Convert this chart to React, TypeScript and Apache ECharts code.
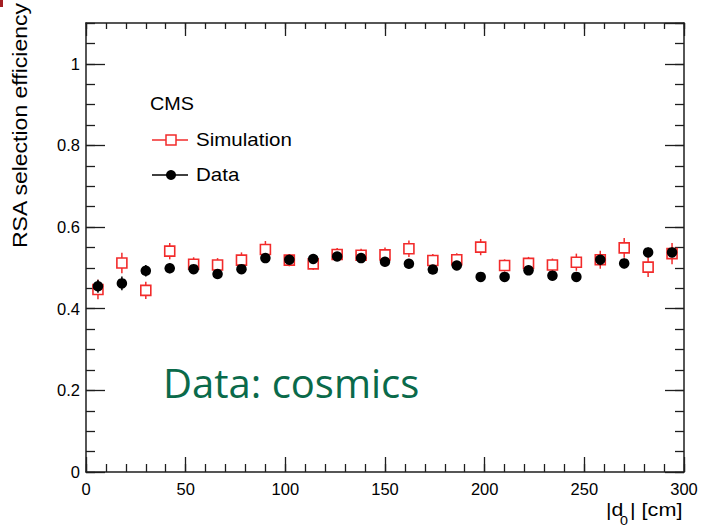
import React, { useEffect, useRef } from 'react';
import * as echarts from 'echarts';

// |d0| bin centers [cm]
const binCenters = [6, 18, 30, 42, 54, 66, 78, 90, 102, 114, 126, 138, 150, 162, 174, 186, 198, 210, 222, 234, 246, 258, 270, 282, 294];
// Simulation efficiency and uncertainty
const simEff = [0.447, 0.512, 0.445, 0.541, 0.509, 0.507, 0.519, 0.545, 0.519, 0.510, 0.533, 0.531, 0.532, 0.547, 0.518, 0.520, 0.551, 0.506, 0.511, 0.507, 0.514, 0.520, 0.549, 0.502, 0.535];
const simErr = [0.024, 0.025, 0.021, 0.020, 0.017, 0.017, 0.019, 0.021, 0.015, 0.015, 0.016, 0.016, 0.018, 0.020, 0.016, 0.016, 0.020, 0.015, 0.016, 0.016, 0.021, 0.022, 0.024, 0.024, 0.026];
// Data (cosmics) efficiency and uncertainty
const dataEff = [0.455, 0.462, 0.493, 0.499, 0.497, 0.485, 0.497, 0.524, 0.520, 0.522, 0.528, 0.524, 0.515, 0.510, 0.496, 0.506, 0.478, 0.478, 0.494, 0.481, 0.478, 0.520, 0.511, 0.538, 0.538];
const dataErr = [0.016, 0.017, 0.014, 0.012, 0.011, 0.011, 0.011, 0.011, 0.011, 0.011, 0.011, 0.011, 0.011, 0.011, 0.011, 0.011, 0.011, 0.011, 0.011, 0.011, 0.011, 0.014, 0.012, 0.012, 0.012];

const xMin = 0;
const xMax = 300;
const yMin = 0;
const yMax = 1.1;

const FONT = '"Liberation Sans", Arial, Helvetica, sans-serif';
const AX = '#1e1e1e';
const RED = '#f22b2b';

function errorBarSeries(values: number[], errs: number[], color: string, gap: number) {
  return {
    type: 'custom',
    xAxisIndex: 0,
    yAxisIndex: 0,
    silent: true,
    encode: { x: 0, y: 1 },
    data: binCenters.map((x, i) => [x, values[i], errs[i]]),
    renderItem: (_params: any, api: any) => {
      const x = api.value(0);
      const y = api.value(1);
      const e = api.value(2);
      const top = api.coord([x, y + e]);
      const bot = api.coord([x, y - e]);
      const c = api.coord([x, y]);
      const children: any[] = [];
      if (c[1] - gap > top[1]) {
        children.push({ type: 'line', shape: { x1: c[0], y1: top[1], x2: c[0], y2: c[1] - gap }, style: { stroke: color, lineWidth: 1.5 } });
      }
      if (bot[1] > c[1] + gap) {
        children.push({ type: 'line', shape: { x1: c[0], y1: c[1] + gap, x2: c[0], y2: bot[1] }, style: { stroke: color, lineWidth: 1.5 } });
      }
      return { type: 'group', children };
    },
  };
}

function xAxisDef(position: 'top' | 'bottom', interval: number, len: number, line: boolean, labels: boolean) {
  return {
    type: 'value',
    position,
    min: xMin,
    max: xMax,
    interval,
    axisLine: { show: line, onZero: false, lineStyle: { color: AX, width: 1.5 } },
    axisTick: { show: true, inside: true, length: len, lineStyle: { color: AX, width: 1.3 } },
    axisLabel: { show: labels, margin: 8, fontSize: 16.5, color: '#000', fontFamily: FONT },
    splitLine: { show: false },
  };
}

function yAxisDef(position: 'left' | 'right', interval: number, len: number, line: boolean, labels: boolean) {
  return {
    type: 'value',
    position,
    min: yMin,
    max: yMax,
    interval,
    axisLine: { show: line, onZero: false, lineStyle: { color: AX, width: 1.5 } },
    axisTick: { show: true, inside: true, length: len, lineStyle: { color: AX, width: 1.3 } },
    axisLabel: { show: labels, margin: 6, fontSize: 16.5, color: '#000', fontFamily: FONT, showMaxLabel: false },
    splitLine: { show: false },
  };
}

export default function App() {
  const ref = useRef<HTMLDivElement>(null);

  useEffect(() => {
    if (!ref.current) return;
    const chart = echarts.init(ref.current, null, { renderer: 'svg' });
    const option: any = {
      animation: false,
      backgroundColor: '#ffffff',
      grid: { left: 86, top: 23, right: 18, bottom: 56, containLabel: false },
      xAxis: [
        xAxisDef('bottom', 50, 15, true, true),
        xAxisDef('bottom', 10, 8, false, false),
        xAxisDef('top', 50, 13, true, false),
        xAxisDef('top', 10, 6, false, false),
      ],
      yAxis: [
        yAxisDef('left', 0.2, 19, true, true),
        yAxisDef('left', 0.05, 9, false, false),
        yAxisDef('right', 0.2, 19, true, false),
        yAxisDef('right', 0.05, 9, false, false),
      ],
      series: [
        errorBarSeries(simEff, simErr, RED, 5),
        {
          type: 'scatter',
          name: 'Simulation',
          xAxisIndex: 0,
          yAxisIndex: 0,
          symbol: 'rect',
          symbolSize: 10,
          itemStyle: { color: 'rgba(255,255,255,0)', borderColor: RED, borderWidth: 1.6, opacity: 1 },
          data: binCenters.map((x, i) => [x, simEff[i]]),
        },
        errorBarSeries(dataEff, dataErr, '#000', 0),
        {
          type: 'scatter',
          name: 'Data',
          xAxisIndex: 0,
          yAxisIndex: 0,
          symbol: 'circle',
          symbolSize: 10.5,
          itemStyle: { color: '#000', opacity: 1 },
          data: binCenters.map((x, i) => [x, dataEff[i]]),
        },
      ],
      graphic: [
        { type: 'rect', left: 0, top: 0, shape: { x: 0, y: 0, width: 3, height: 7 }, style: { fill: '#a31e22' } },
        {
          type: 'text', x: 20.5, y: 3, rotation: Math.PI / 2, scaleX: 1.15,
          style: { text: 'RSA selection efficiency', fill: '#000', font: `20px ${FONT}`, align: 'right', verticalAlign: 'middle' },
        },
        { type: 'text', x: 606, y: 509.5, scaleX: 1.18, style: { text: '|d', fill: '#000', font: `18px ${FONT}`, align: 'left', verticalAlign: 'middle' } },
        { type: 'text', x: 620, y: 521, scaleX: 1.1, style: { text: '0', fill: '#000', font: `13px ${FONT}`, align: 'left', verticalAlign: 'middle' } },
        { type: 'text', x: 630, y: 509.5, scaleX: 1.2, style: { text: '| [cm]', fill: '#000', font: `18px ${FONT}`, align: 'left', verticalAlign: 'middle' } },
        { type: 'text', x: 150, y: 104, scaleX: 1.1, style: { text: 'CMS', fill: '#000', font: `18px ${FONT}`, align: 'left', verticalAlign: 'middle' } },
        { type: 'line', shape: { x1: 152, y1: 140, x2: 188, y2: 140 }, style: { stroke: RED, lineWidth: 1.4 } },
        { type: 'rect', shape: { x: 166, y: 135, width: 10, height: 10 }, style: { fill: '#fff', stroke: RED, lineWidth: 1.5 } },
        { type: 'text', x: 196, y: 140, scaleX: 1.14, style: { text: 'Simulation', fill: '#000', font: `18px ${FONT}`, align: 'left', verticalAlign: 'middle' } },
        { type: 'line', shape: { x1: 152, y1: 175, x2: 188, y2: 175 }, style: { stroke: '#000', lineWidth: 1.4 } },
        { type: 'circle', shape: { cx: 171, cy: 175, r: 5 }, style: { fill: '#000' } },
        { type: 'text', x: 196, y: 175, scaleX: 1.14, style: { text: 'Data', fill: '#000', font: `18px ${FONT}`, align: 'left', verticalAlign: 'middle' } },
        { type: 'text', x: 163, y: 382.5, style: { text: 'Data: cosmics', fill: '#0a6a4a', font: `40px "Open Sans", sans-serif`, align: 'left', verticalAlign: 'middle' } },
      ],
    };
    chart.setOption(option);
    return () => chart.dispose();
  }, []);

  return (
    <div
      ref={ref}
      style={{ position: 'absolute', left: 0, top: 0, width: 702, height: 528, background: '#fff' }}
    />
  );
}
